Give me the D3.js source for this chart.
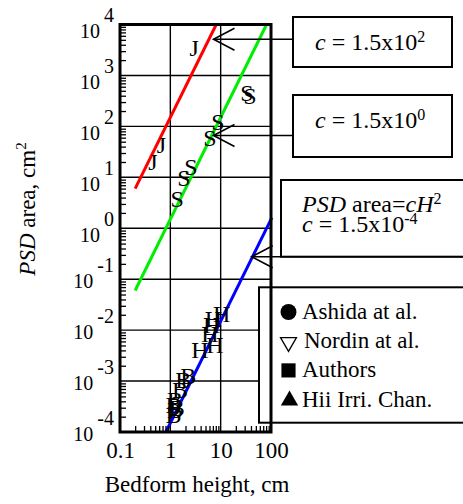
<!DOCTYPE html>
<html>
<head>
<meta charset="utf-8">
<script src="https://cdn.jsdelivr.net/npm/d3@7"></script>
<style>
  body { margin: 0; background: #fff; }
  svg { display: block; }
  text { font-family: "Liberation Serif", "Times New Roman", Times, serif; fill: #000; }
</style>
</head>
<body>
<svg id="chart" width="463" height="504"></svg>
<script>
// Measured bedform heights (cm) and PSD areas (cm^2); each set is drawn with its own letter mark
const jHeight = [2.96, 0.668, 0.453];
const jArea   = [3460, 43.1, 20.5];
const sHeight = [33.4, 38.3, 8.87, 6.15, 2.58, 1.87, 1.36];
const sArea   = [452, 395, 122, 59.2, 16.0, 9.7, 3.76];
const hHeight = [10.5, 7.15, 6.65, 6.15, 7.73, 3.89];
const hArea   = [0.0214, 0.0171, 0.0126, 0.00867, 0.0051, 0.00407];
const bHeight = [2.28, 1.81, 1.56, 1.24, 1.15, 1.34, 1.24, 1.15];
const bArea   = [0.00126, 0.00105, 0.000668, 0.000426, 0.000339, 0.000296, 0.00027, 0.000216];
const markLetters = ["J", "S", "H", "B"];

// PSD area = c H^2 reference lines
const fitC      = [1.5e2, 1.5e0, 1.5e-4];
const fitHStart = [0.2, 0.2, 0.8165];
const fitHEnd   = [8.165, 81.65, 104];
const fitColors = ["#ff0000", "#00ee00", "#0000ff"];

// Axis ticks
const xTickValues = [0.1, 1, 10, 100];
const xTickLabels = ["0.1", "1", "10", "100"];
const yTickExps   = [-4, -3, -2, -1, 0, 1, 2, 3, 4];

// Legend entries
const legendLabels = ["Ashida at al.", "Nordin at al.", "Authors", "Hii Irri. Chan."];
const legendSymbols = ["circle", "nabla", "square", "triangle"];

const svg = d3.select("#chart");

const x = d3.scaleLog().domain([0.1, 100]).range([120, 271]);
const y = d3.scaleLog().domain([1e-4, 1e4]).range([432, 24.5]);

// Grid lines
const grid = svg.append("g").attr("stroke", "#000").attr("stroke-width", 1.4);
grid.selectAll("line.gx").data([1, 10]).join("line")
  .attr("x1", d => x(d)).attr("x2", d => x(d))
  .attr("y1", y(1e4)).attr("y2", y(1e-4));
grid.selectAll("line.gy").data(yTickExps.slice(1, -1)).join("line")
  .attr("x1", x(0.1)).attr("x2", x(100))
  .attr("y1", d => y(Math.pow(10, d))).attr("y2", d => y(Math.pow(10, d)));

// Reference lines
const lineGen = d3.line().x(d => x(d[0])).y(d => y(d[1]));
fitC.forEach((c, i) => {
  const pts = [fitHStart[i], fitHEnd[i]].map(h => [h, c * h * h]);
  svg.append("path").attr("d", lineGen(pts))
    .attr("fill", "none").attr("stroke", fitColors[i]).attr("stroke-width", 3);
});

// Data marks
const sets = [[jHeight, jArea], [sHeight, sArea], [hHeight, hArea], [bHeight, bArea]];
sets.forEach((s, k) => {
  svg.append("g").selectAll("text").data(d3.zip(s[0], s[1])).join("text")
    .attr("x", d => x(d[0])).attr("y", d => y(d[1]))
    .attr("dy", "0.35em").attr("text-anchor", "middle")
    .attr("font-size", 24).text(markLetters[k]);
});

// Legend panel (drawn over the grid)
const leg = svg.append("g");
leg.append("rect").attr("x", 259).attr("y", 287.3).attr("width", 230).attr("height", 135.4)
  .attr("fill", "#fff").attr("stroke", "#000").attr("stroke-width", 2);
legendLabels.forEach((lab, i) => {
  const by = 319 + i * 29.2;
  const cx = 288.5, cy = by - 7;
  const kind = legendSymbols[i];
  if (kind === "circle") {
    leg.append("path").attr("d", d3.symbol(d3.symbolCircle, 200)())
      .attr("transform", `translate(${cx},${cy})`).attr("fill", "#000");
  } else if (kind === "nabla") {
    leg.append("path").attr("d", d3.symbol(d3.symbolTriangle, 110)())
      .attr("transform", `translate(${cx},${cy + 1}) rotate(180)`)
      .attr("fill", "none").attr("stroke", "#000").attr("stroke-width", 1.3);
  } else if (kind === "square") {
    leg.append("path").attr("d", d3.symbol(d3.symbolSquare, 200)())
      .attr("transform", `translate(${cx},${cy})`).attr("fill", "#000");
  } else {
    leg.append("path").attr("d", d3.symbol(d3.symbolTriangle, 130)())
      .attr("transform", `translate(${cx + 1},${cy + 1})`).attr("fill", "#000");
  }
  leg.append("text").attr("x", i === 1 ? 304 : 302).attr("y", by)
    .attr("font-size", 23).text(lab);
});

// Minor ticks (inside the frame)
const minor = [];
for (let e = -4; e < 4; e++) for (let m = 2; m <= 9; m++) minor.push(m * Math.pow(10, e));
const minorX = minor.filter(v => v > 0.1 && v < 100);

const xMinor = svg.append("g").attr("transform", `translate(0,${y(1e-4)})`)
  .call(d3.axisBottom(x).tickValues(minorX).tickSize(-6).tickFormat(""));
xMinor.select(".domain").remove();
xMinor.selectAll("line").attr("stroke-width", 1.3);

const yMinor = svg.append("g").attr("transform", `translate(${x(0.1)},0)`)
  .call(d3.axisLeft(y).tickValues(minor).tickSize(-6).tickFormat(""));
yMinor.select(".domain").remove();
yMinor.selectAll("line").attr("stroke-width", 1.3);

// Frame
svg.append("rect").attr("x", x(0.1)).attr("y", y(1e4))
  .attr("width", x(100) - x(0.1)).attr("height", y(1e-4) - y(1e4))
  .attr("fill", "none").attr("stroke", "#000").attr("stroke-width", 3);

// X tick labels
const xAxis = svg.append("g").attr("transform", `translate(0,${y(1e-4)})`)
  .call(d3.axisBottom(x).tickValues(xTickValues).tickSize(0)
    .tickFormat((d, i) => xTickLabels[i]));
xAxis.select(".domain").remove();
xAxis.selectAll("text").attr("y", 26).attr("dy", 0)
  .attr("font-size", 23).attr("font-family", null).attr("fill", "#000");

// Y tick labels: 10 with raised exponent
const yAxis = svg.append("g").attr("transform", `translate(${x(0.1)},0)`)
  .call(d3.axisLeft(y).tickValues(yTickExps.map(e => Math.pow(10, e))).tickSize(0).tickFormat(""));
yAxis.select(".domain").remove();
yAxis.selectAll(".tick").each(function (d) {
  const e = Math.round(Math.log10(d));
  const t = d3.select(this).select("text")
    .attr("x", -6).attr("y", e >= 0 ? 13 : 8).attr("dy", 0)
    .attr("text-anchor", "end").attr("font-size", 20)
    .attr("font-family", null).attr("fill", "#000");
  t.append("tspan").text("10");
  t.append("tspan").attr("dx", 4).attr("dy", -16).text(String(e));
});

// Axis titles
svg.append("text").attr("x", 197).attr("y", 492).attr("text-anchor", "middle")
  .attr("font-size", 23).text("Bedform height, cm");
const yt = svg.append("text").attr("transform", "translate(35,209) rotate(-90)")
  .attr("text-anchor", "middle").attr("font-size", 23);
yt.append("tspan").attr("font-style", "italic").text("PSD");
yt.append("tspan").text(" area, cm");
yt.append("tspan").attr("font-size", 15).attr("dy", -9).text("2");

// Annotation boxes with arrows
const ann = svg.append("g");
function arrowTo(tx, ty, x2) {
  ann.append("line").attr("x1", tx).attr("y1", ty).attr("x2", x2).attr("y2", ty)
    .attr("stroke", "#000").attr("stroke-width", 1.6);
  ann.append("path").attr("d", `M${tx + 21},${ty - 11}L${tx},${ty}L${tx + 21},${ty + 11}`)
    .attr("fill", "none").attr("stroke", "#000").attr("stroke-width", 1.6);
}
function box(x0, y0, w, h) {
  ann.append("rect").attr("x", x0).attr("y", y0).attr("width", w).attr("height", h)
    .attr("fill", "#fff").attr("stroke", "#000").attr("stroke-width", 2);
}
function cText(tx, ty, mant, exp) {
  const t = ann.append("text").attr("x", tx).attr("y", ty).attr("font-size", 24);
  t.append("tspan").attr("font-style", "italic").text("c");
  t.append("tspan").text(" = " + mant + "x10");
  t.append("tspan").attr("font-size", 16).attr("dy", -8).text(exp);
}

arrowTo(213.5, 39.3, 293);
box(293, 17, 159, 50);
cText(315, 50, "1.5", "2");

arrowTo(213.5, 135.5, 293);
box(293, 95, 159, 62);
cText(315, 128, "1.5", "0");

box(281, 180, 200, 76.7);
arrowTo(251.7, 256.7, 463);
const t3 = ann.append("text").attr("x", 302).attr("y", 212).attr("font-size", 24);
t3.append("tspan").attr("font-style", "italic").text("PSD");
t3.append("tspan").text(" area=");
t3.append("tspan").attr("font-style", "italic").text("cH");
t3.append("tspan").attr("font-size", 16).attr("dy", -8).text("2");
cText(302, 232, "1.5", "-4");
</script>
</body>
</html>
